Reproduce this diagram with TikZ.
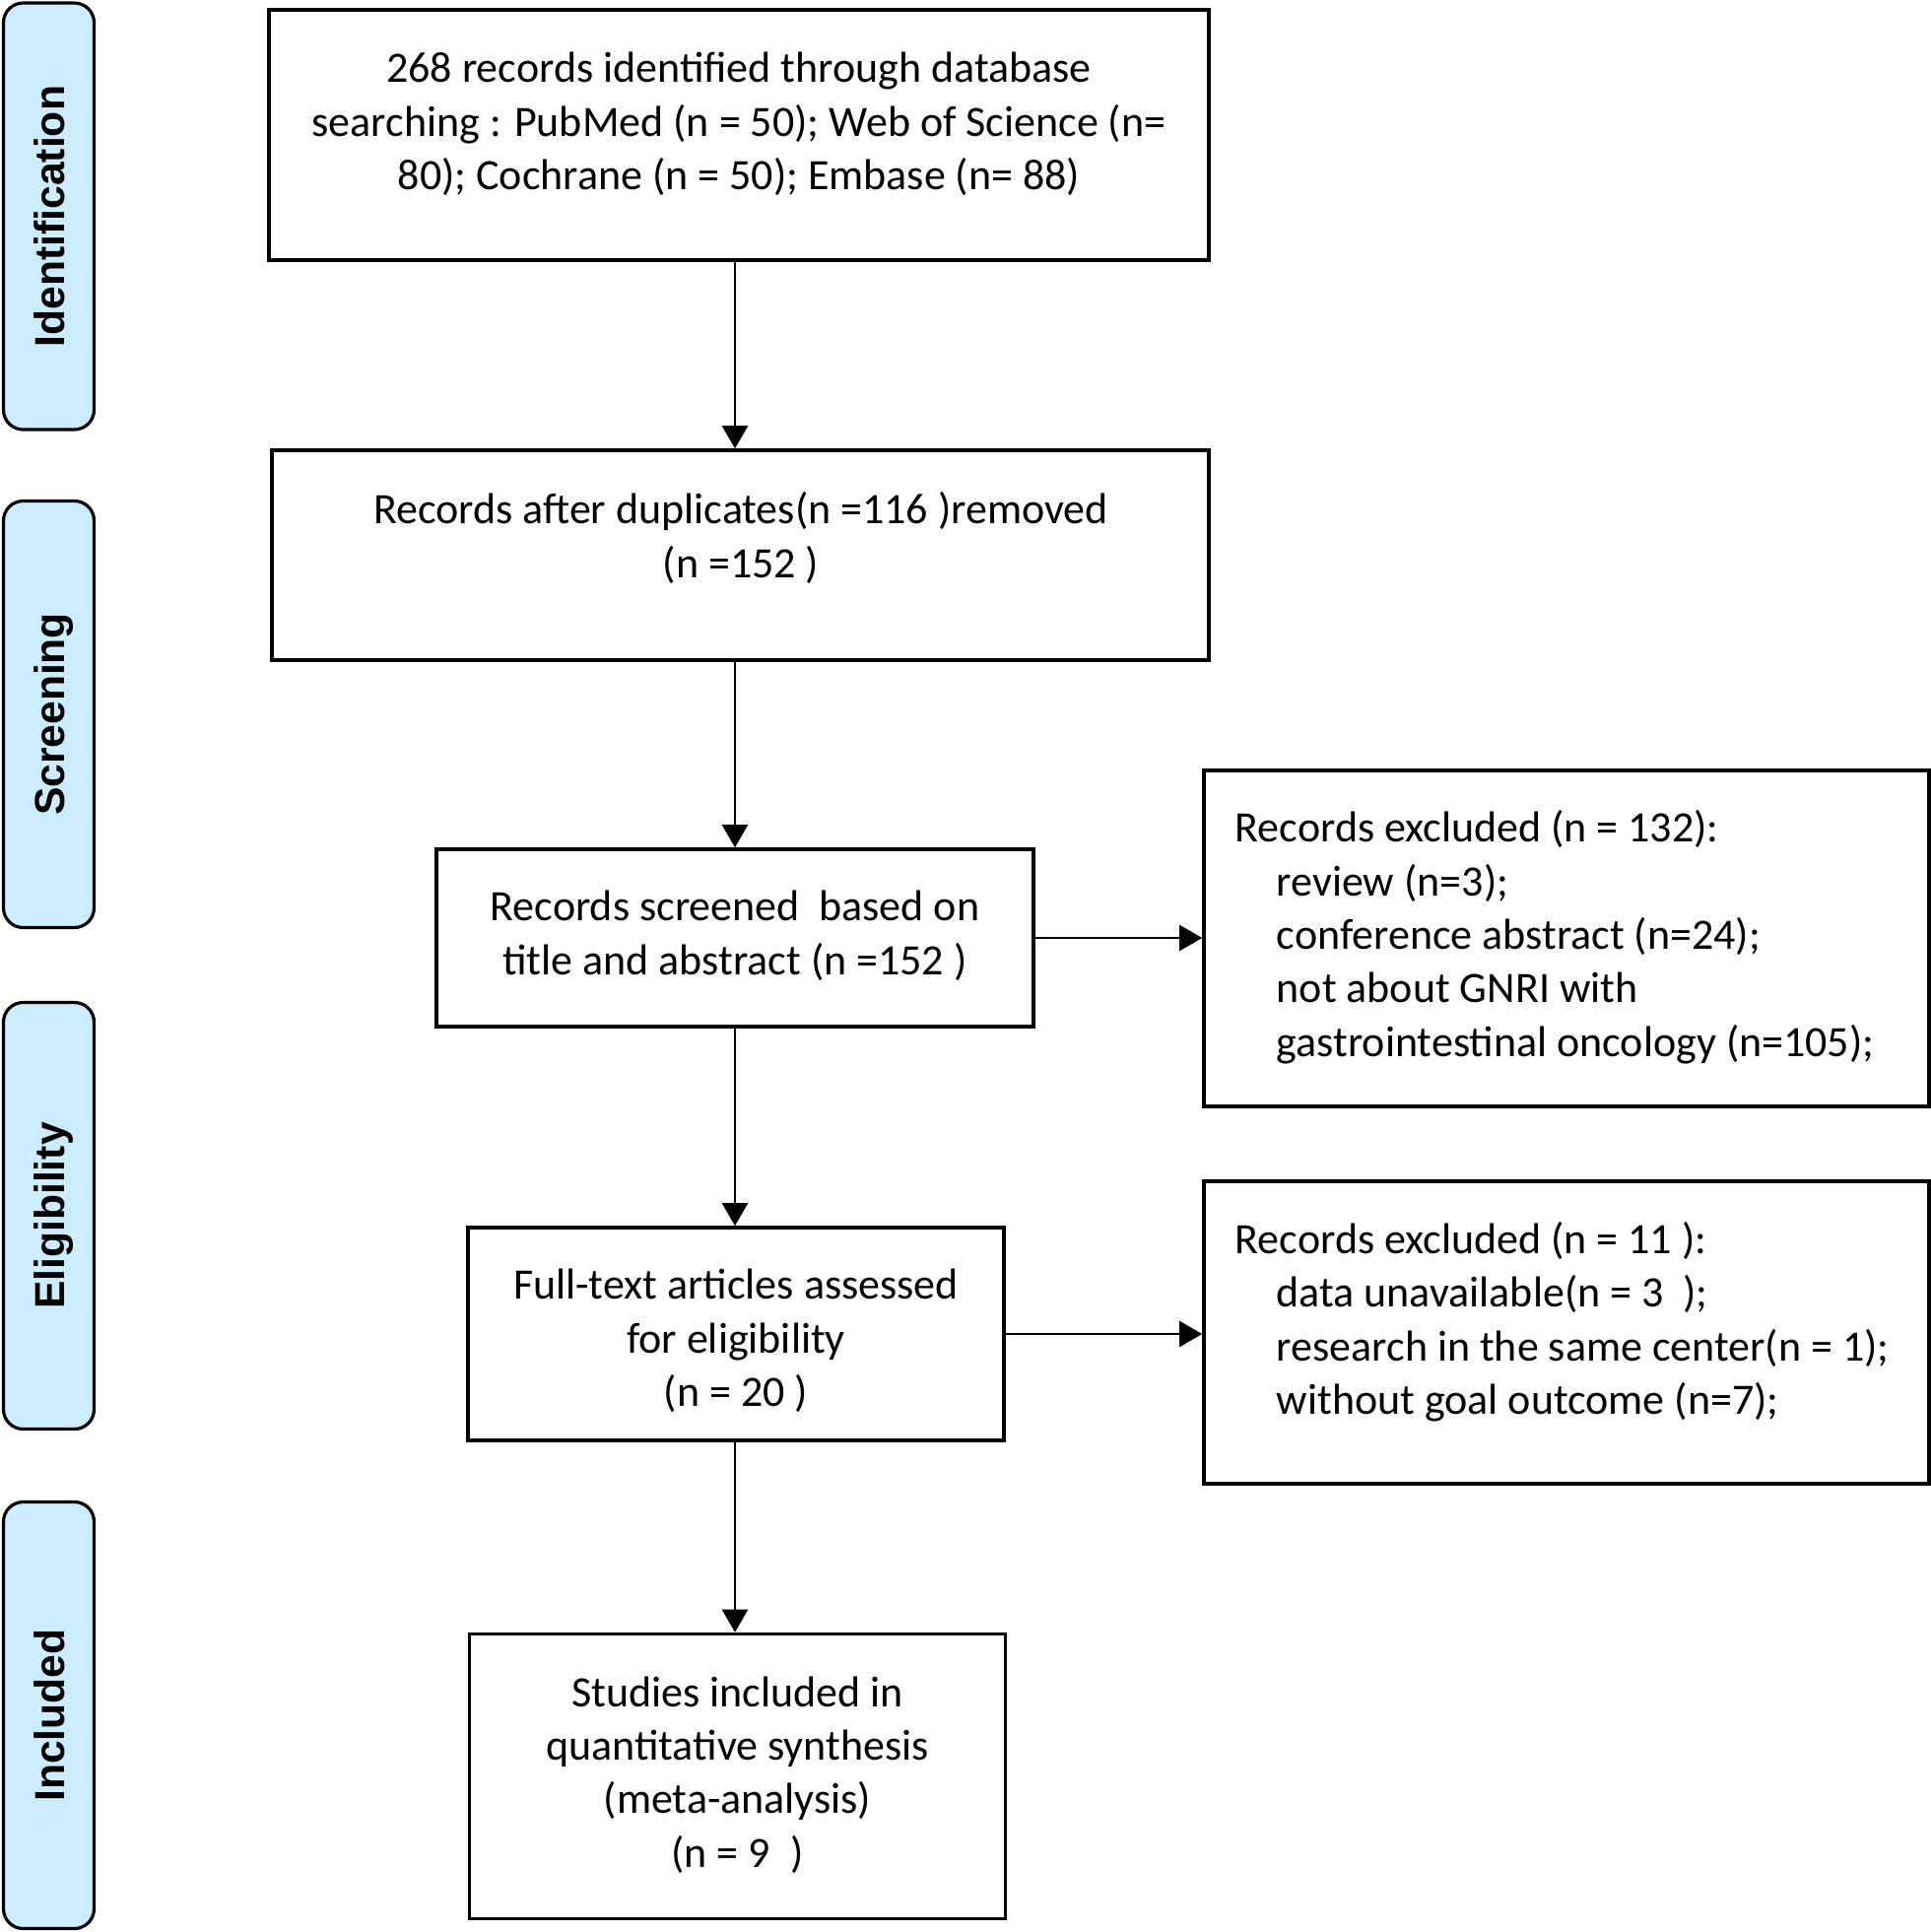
\documentclass[tikz,border=0pt]{standalone}
\usepackage{fontspec}
\setmainfont{Carlito}
\newfontfamily\labelfont{Liberation Sans}
\usetikzlibrary{arrows.meta}
\definecolor{phase}{HTML}{CCECFF}
\begin{document}
\begin{tikzpicture}[x=0.25pt,y=-0.25pt,
  box/.style={draw=black, line width=0.9pt, rectangle, inner sep=0pt},
  phasebox/.style={draw=black, line width=0.8pt, fill=phase, rounded corners=5pt,
    rotate=90, minimum width=108.25pt, minimum height=23pt, inner sep=0pt,
    font=\labelfont\bfseries\fontsize{10.65}{12.8}\selectfont,
    text height=7.8pt, text depth=0pt},
  txt/.style={font=\fontsize{11}{13.6}\selectfont, align=center, inner sep=0pt,
    execute at begin node=\strut, execute at end node=\strut},
  ltxt/.style={txt, align=left, anchor=west},
  arr/.style={line width=0.6pt, -{Triangle[length=5.75pt,width=6.5pt]}},
]
\useasboundingbox (0,0) rectangle (1960,1961);

% phase labels
\node[phasebox] (pid) at (49.5,219.5) {Identification};
\node[phasebox] (psc) at (49.5,725) {Screening};
\node[phasebox] (pel) at (49.5,1234) {Eligibility};
\node[phasebox] (pin) at (49.5,1741) {Included};

% main boxes
\node[box, minimum width=238.5pt, minimum height=63.5pt] (b1) at (750,137) {};
\node[box, minimum width=237.75pt, minimum height=53.25pt] (b2) at (751.5,563.5) {};
\node[box, minimum width=151.5pt, minimum height=45pt] (b3) at (746,952) {};
\node[box, minimum width=136pt, minimum height=54pt] (b4) at (747,1354) {};
\node[box, minimum width=136pt, minimum height=72.25pt] (b5) at (748.5,1803) {};
\node[box, minimum width=184pt, minimum height=85.25pt] (r1) at (1590,952.5) {};
\node[box, minimum width=184pt, minimum height=76.75pt] (r2) at (1590,1352.5) {};

% texts
\node[txt] (t1) at (750,131) {268 records identified through database\\searching : PubMed (n = 50); Web of Science (n=\\80); Cochrane (n = 50); Embase (n= 88)};
\node[txt] (t2) at (752,551) {Records after duplicates(n =116 )removed\\(n =152 )};
\node[txt] (t3) at (746,955) {Records screened\ \ based on\\title and abstract (n =152 )};
\node[txt] (t4) at (747,1366) {Full-text articles assessed\\for eligibility\\(n = 20 )};
\node[txt] (t5) at (748.5,1806.5) {Studies included in\\quantitative synthesis\\(meta-analysis)\\(n = 9\ \ )};
\node[ltxt] (rt1) at (1253,955.5) {Records excluded (n = 132):\\\hspace*{10.5pt}review (n=3);\\\hspace*{10.5pt}conference abstract (n=24);\\\hspace*{10.5pt}not about GNRI with\\\hspace*{10.5pt}gastrointestinal oncology (n=105);};
\node[ltxt] (rt2) at (1253,1346) {Records excluded (n = 11 ):\\\hspace*{10.5pt}data unavailable(n = 3\ \ );\\\hspace*{10.5pt}research in the same center(n = 1);\\\hspace*{10.5pt}without goal outcome (n=7);};

% connectors
\draw[arr] (b1.south -| b3.north) -- (b2.north -| b3.north);
\draw[arr] (b2.south -| b3.north) -- (b3.north);
\draw[arr] (b3.south) -- (b4.north -| b3.south);
\draw[arr] (b4.south -| b3.south) -- (b5.north -| b3.south);
\draw[arr] (b3.east) -- (b3.east -| r1.west);
\draw[arr] (b4.east) -- (b4.east -| r2.west);
\end{tikzpicture}
\end{document}
